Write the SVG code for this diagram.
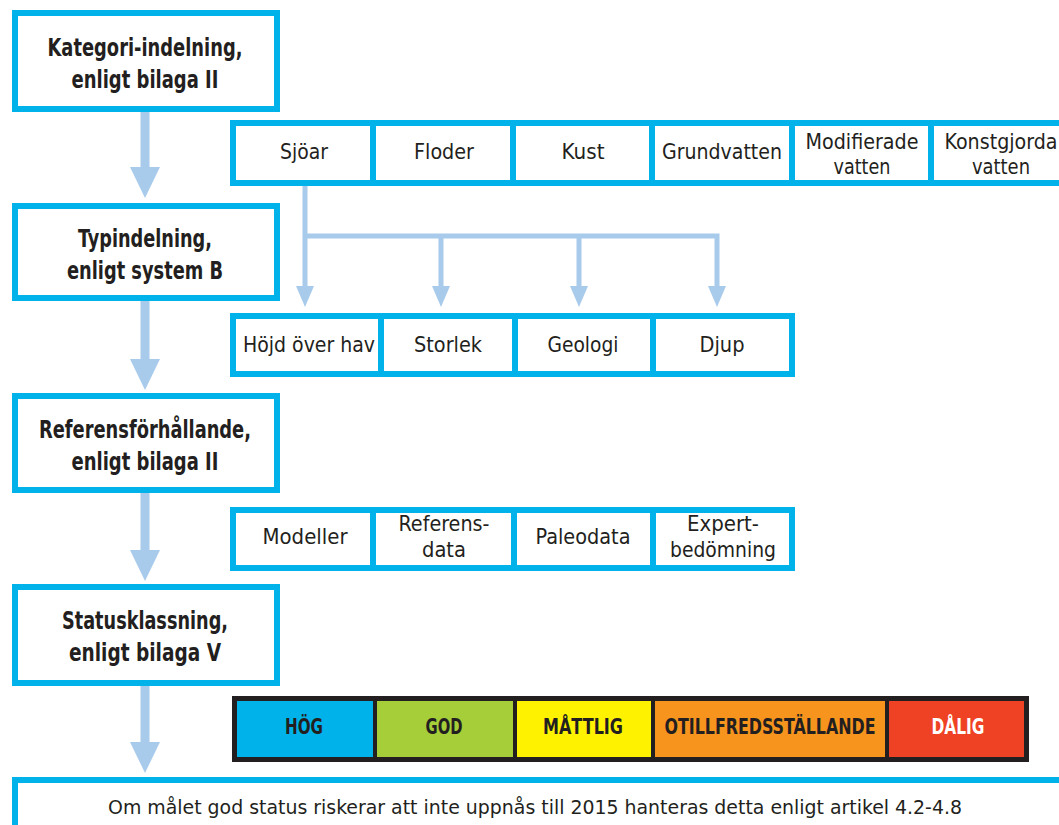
<svg xmlns="http://www.w3.org/2000/svg" width="1059" height="825" viewBox="0 0 1059 825">
<style>
.box{fill:#fff;stroke:#00b2ea;stroke-width:6}
.h{font-family:"Liberation Sans Narrow","Arial Narrow","DejaVu Sans Condensed","Liberation Sans",sans-serif;font-weight:bold;font-size:24px;fill:#231f20;text-anchor:middle}
.t{font-family:"Liberation Sans Narrow","Arial Narrow","DejaVu Sans Condensed","Liberation Sans",sans-serif;font-size:21px;fill:#231f20;text-anchor:middle}
.s{font-family:"Liberation Sans Narrow","Arial Narrow","DejaVu Sans Condensed","Liberation Sans",sans-serif;font-weight:bold;font-size:21px;fill:#231f20;text-anchor:middle}
.arr{fill:#a8cbec}
.ln{fill:none;stroke:#a8cbec;stroke-width:5}
</style>
<rect width="1059" height="825" fill="#fff"/>
<g id="connectors">
  <rect class="arr" x="140.5" y="112" width="9" height="58"/>
  <polygon class="arr" points="130,167 160,167 145,198"/>
  <rect class="arr" x="140.5" y="300" width="9" height="62"/>
  <polygon class="arr" points="130,359 160,359 145,390"/>
  <rect class="arr" x="140.5" y="493" width="9" height="60"/>
  <polygon class="arr" points="130,550 160,550 145,581"/>
  <rect class="arr" x="140.5" y="686" width="9" height="60"/>
  <polygon class="arr" points="130,742 160,742 145,773"/>
  <path class="ln" d="M305,184 V290 M305,236 H717 V290 M441,236 V290 M579,236 V290"/>
  <polygon class="arr" points="296,286 314,286 305,307"/>
  <polygon class="arr" points="432,286 450,286 441,307"/>
  <polygon class="arr" points="570,286 588,286 579,307"/>
  <polygon class="arr" points="708,286 726,286 717,307"/>
</g>
<g id="kategori">
  <rect class="box" x="15" y="13" width="262" height="96"/>
  <text class="h" x="145" y="55.5" textLength="195" lengthAdjust="spacingAndGlyphs">Kategori-indelning,</text>
  <text class="h" x="145" y="87.5" textLength="147" lengthAdjust="spacingAndGlyphs">enligt bilaga II</text>
</g>
<g id="typindelning">
  <rect class="box" x="15" y="206" width="262" height="92"/>
  <text class="h" x="145" y="246.5" textLength="134" lengthAdjust="spacingAndGlyphs">Typindelning,</text>
  <text class="h" x="145" y="278.5" textLength="156" lengthAdjust="spacingAndGlyphs">enligt system B</text>
</g>
<g id="referens">
  <rect class="box" x="15" y="396" width="262" height="94"/>
  <text class="h" x="145" y="437.5" textLength="212" lengthAdjust="spacingAndGlyphs">Referensförhållande,</text>
  <text class="h" x="145" y="469.5" textLength="147" lengthAdjust="spacingAndGlyphs">enligt bilaga II</text>
</g>
<g id="status">
  <rect class="box" x="15" y="587" width="262" height="96"/>
  <text class="h" x="145" y="628.5" textLength="166" lengthAdjust="spacingAndGlyphs">Statusklassning,</text>
  <text class="h" x="145" y="660.5" textLength="152" lengthAdjust="spacingAndGlyphs">enligt bilaga V</text>
</g>
<g id="kategorier">
  <rect class="box" x="233" y="123" width="140" height="60"/>
  <rect class="box" x="373" y="123" width="140" height="60"/>
  <rect class="box" x="513" y="123" width="139" height="60"/>
  <rect class="box" x="652" y="123" width="140" height="60"/>
  <rect class="box" x="792" y="123" width="139" height="60"/>
  <rect class="box" x="931" y="123" width="140" height="60"/>
  <text class="t" x="304" y="159" textLength="48" lengthAdjust="spacingAndGlyphs">Sjöar</text>
  <text class="t" x="444" y="159" textLength="60" lengthAdjust="spacingAndGlyphs">Floder</text>
  <text class="t" x="583" y="159" textLength="43" lengthAdjust="spacingAndGlyphs">Kust</text>
  <text class="t" x="722" y="159" textLength="120" lengthAdjust="spacingAndGlyphs">Grundvatten</text>
  <text class="t" x="862" y="148.5" textLength="113" lengthAdjust="spacingAndGlyphs">Modifierade</text>
  <text class="t" x="862" y="174" textLength="57" lengthAdjust="spacingAndGlyphs">vatten</text>
  <text class="t" x="1001" y="148.5" textLength="113" lengthAdjust="spacingAndGlyphs">Konstgjorda</text>
  <text class="t" x="1001" y="174" textLength="58" lengthAdjust="spacingAndGlyphs">vatten</text>
</g>
<g id="typer">
  <rect class="box" x="233" y="316" width="148" height="58"/>
  <rect class="box" x="381" y="316" width="134" height="58"/>
  <rect class="box" x="515" y="316" width="138" height="58"/>
  <rect class="box" x="653" y="316" width="139" height="58"/>
  <text class="t" x="309" y="352" textLength="132" lengthAdjust="spacingAndGlyphs">Höjd över hav</text>
  <text class="t" x="448" y="352" textLength="68" lengthAdjust="spacingAndGlyphs">Storlek</text>
  <text class="t" x="583" y="352" textLength="71" lengthAdjust="spacingAndGlyphs">Geologi</text>
  <text class="t" x="722" y="352" textLength="45" lengthAdjust="spacingAndGlyphs">Djup</text>
</g>
<g id="referensdata">
  <rect class="box" x="233" y="510" width="140" height="58"/>
  <rect class="box" x="373" y="510" width="141" height="58"/>
  <rect class="box" x="514" y="510" width="139" height="58"/>
  <rect class="box" x="653" y="510" width="139" height="58"/>
  <text class="t" x="305" y="544" textLength="85" lengthAdjust="spacingAndGlyphs">Modeller</text>
  <text class="t" x="444" y="531" textLength="91" lengthAdjust="spacingAndGlyphs">Referens-</text>
  <text class="t" x="444" y="557" textLength="44" lengthAdjust="spacingAndGlyphs">data</text>
  <text class="t" x="583" y="544" textLength="95" lengthAdjust="spacingAndGlyphs">Paleodata</text>
  <text class="t" x="723" y="531" textLength="72" lengthAdjust="spacingAndGlyphs">Expert-</text>
  <text class="t" x="723" y="557" textLength="106" lengthAdjust="spacingAndGlyphs">bedömning</text>
</g>
<g id="statusklasser">
  <rect x="232" y="696" width="797" height="66" fill="#231f20"/>
  <rect x="237" y="701" width="136" height="56" fill="#00b2ea"/>
  <rect x="377" y="701" width="136" height="56" fill="#a6ce39"/>
  <rect x="517" y="701" width="134" height="56" fill="#fff200"/>
  <rect x="655" y="701" width="230" height="56" fill="#f7941d"/>
  <rect x="889" y="701" width="135" height="56" fill="#ef4123"/>
  <text class="s" x="304" y="734" textLength="38" lengthAdjust="spacingAndGlyphs">HÖG</text>
  <text class="s" x="444" y="734" textLength="37" lengthAdjust="spacingAndGlyphs">GOD</text>
  <text class="s" x="583" y="734" textLength="80" lengthAdjust="spacingAndGlyphs">MÅTTLIG</text>
  <text class="s" x="770" y="734" textLength="211" lengthAdjust="spacingAndGlyphs">OTILLFREDSSTÄLLANDE</text>
  <text class="s" x="958" y="734" textLength="53" lengthAdjust="spacingAndGlyphs" fill="#fff" style="fill:#fff">DÅLIG</text>
</g>
<g id="atgard">
  <rect class="box" x="15" y="780" width="1060" height="60"/>
  <text class="t" x="535" y="814" textLength="854" lengthAdjust="spacingAndGlyphs" style="font-size:20px">Om målet god status riskerar att inte uppnås till 2015 hanteras detta enligt artikel 4.2-4.8</text>
</g>
</svg>
